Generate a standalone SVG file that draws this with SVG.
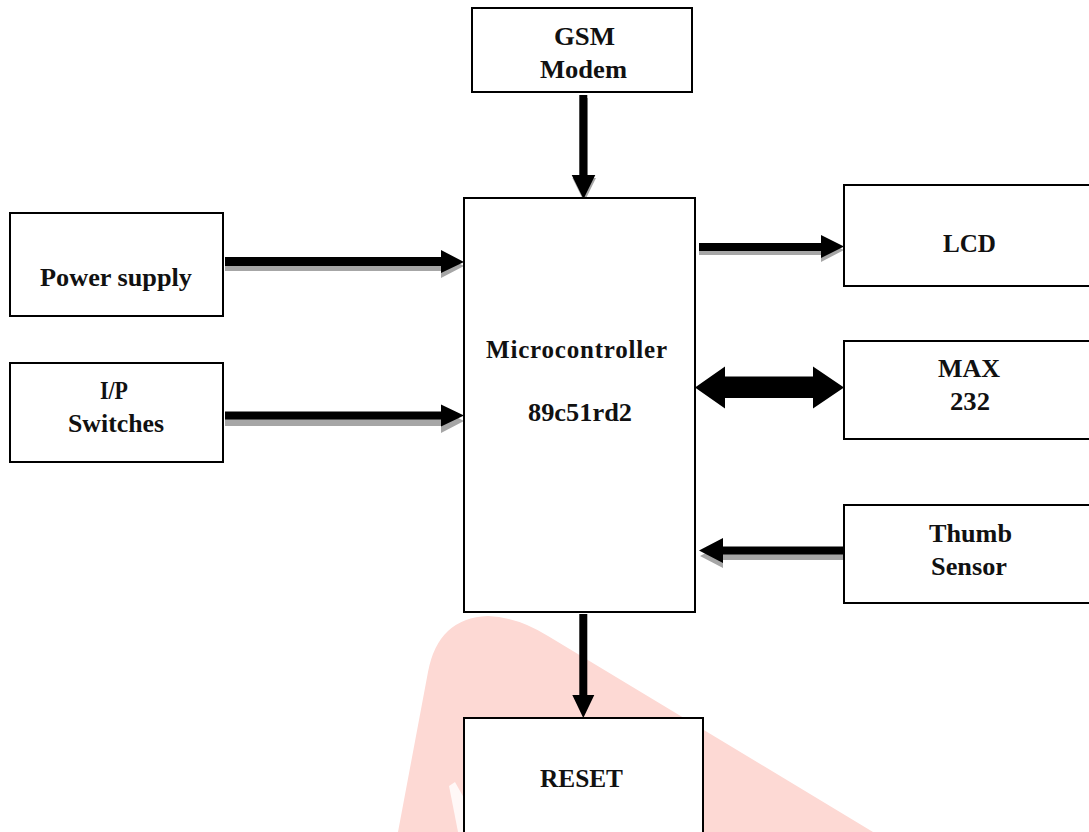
<svg xmlns="http://www.w3.org/2000/svg" width="1089" height="832" viewBox="0 0 1089 832">
<style>
.box{fill:#fff;stroke:#000;stroke-width:2}
.t{font-family:"Times New Roman","Liberation Serif",serif;font-weight:bold;font-size:25px;fill:#111;text-anchor:middle}
.ar{fill:#000}
.sh{fill:#a6a6a6}
</style>
<rect width="1089" height="832" fill="#fff"/>
<g id="watermark">
<path d="M398 832 L428 672 Q438 618 488 616 Q518 617 548 636 L873 832 Z" fill="#fdd9d4"/>
<path d="M449 786 L455 782 L464 798 L464 832 L458 832 Z" fill="#fff" opacity="0.8"/>
</g>
<g id="connectors">
<path class="sh" d="M580 98 h8 v80 h8 l-11.8 24 l-11.8 -24 h7.6 Z"/>
<path class="ar" d="M579.3 95 h8 v80 h8 l-11.8 24 l-11.8 -24 h7.6 Z"/>
<path class="sh" d="M225 261 h216 v-7 l23 12 l-23 12 v-7 h-216 Z"/>
<path class="ar" d="M225 257 h216 v-7 l23 12 l-23 11 v-7 h-216 Z"/>
<path class="sh" d="M225 416 h216 v-7 l23 12 l-23 12 v-7 h-216 Z"/>
<path class="ar" d="M225 411.5 h216 v-7 l23 11 l-23 11 v-7 h-216 Z"/>
<path class="sh" d="M699 247 h122 v-8 l23 11 l-23 12 v-7 h-122 Z"/>
<path class="ar" d="M699 243 h122 v-8 l23 11.5 l-23 11.5 v-7 h-122 Z"/>
<path class="ar" d="M695 387.5 l30 -21 v10 h88 v-10 l31 21 l-31 21 v-10.5 h-88 v10.5 Z"/>
<path class="sh" d="M844 551 h-121 v-7 l-23 12 l23 12 v-8 h121 Z"/>
<path class="ar" d="M844 546.5 h-121 v-8.5 l-24 12.5 l24 12.5 v-8.5 h121 Z"/>
<path class="ar" d="M579.3 614 h8 v81 h7 l-11 23 l-11 -23 h7 Z"/>
</g>
<g id="gsm">
<rect class="box" x="472" y="8" width="220" height="84"/>
<text class="t" x="584.5" y="45" textLength="61" lengthAdjust="spacingAndGlyphs">GSM</text>
<text class="t" x="583.5" y="78" textLength="87" lengthAdjust="spacingAndGlyphs">Modem</text>
</g>
<g id="micro">
<rect class="box" x="464" y="198" width="231" height="414"/>
<text class="t" x="576.5" y="358" textLength="181" lengthAdjust="spacing">Microcontroller</text>
<text class="t" x="580" y="421" textLength="104" lengthAdjust="spacingAndGlyphs">89c51rd2</text>
</g>
<g id="power">
<rect class="box" x="10" y="213" width="213" height="103"/>
<text class="t" x="116" y="286" textLength="152" lengthAdjust="spacingAndGlyphs">Power supply</text>
</g>
<g id="ipswitches">
<rect class="box" x="10" y="363" width="213" height="99"/>
<text class="t" x="114" y="399" textLength="28" lengthAdjust="spacingAndGlyphs">I/P</text>
<text class="t" x="116" y="432" textLength="96" lengthAdjust="spacingAndGlyphs">Switches</text>
</g>
<g id="lcd">
<rect class="box" x="844" y="185" width="252" height="101"/>
<text class="t" x="969.5" y="252" textLength="53" lengthAdjust="spacingAndGlyphs">LCD</text>
</g>
<g id="max232">
<rect class="box" x="844" y="341" width="252" height="98"/>
<text class="t" x="969" y="377" textLength="62" lengthAdjust="spacingAndGlyphs">MAX</text>
<text class="t" x="970" y="410" textLength="40" lengthAdjust="spacingAndGlyphs">232</text>
</g>
<g id="thumb">
<rect class="box" x="844" y="505" width="252" height="98"/>
<text class="t" x="970.5" y="542" textLength="83" lengthAdjust="spacingAndGlyphs">Thumb</text>
<text class="t" x="969" y="575" textLength="76" lengthAdjust="spacingAndGlyphs">Sensor</text>
</g>
<g id="reset">
<rect class="box" x="464" y="718" width="239" height="124"/>
<text class="t" x="581.5" y="787" textLength="83" lengthAdjust="spacingAndGlyphs">RESET</text>
</g>
</svg>
